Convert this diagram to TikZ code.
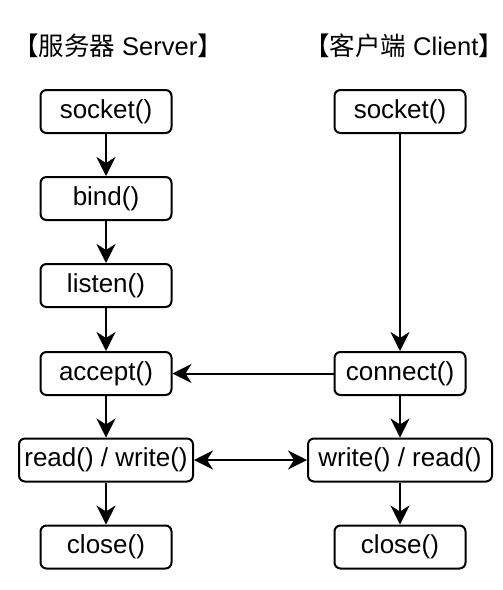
\documentclass[tikz,border=0pt]{standalone}
\usepackage{fontspec}
\setmainfont{Liberation Sans}
\newfontfamily\cjk{Noto Sans CJK SC}
\usetikzlibrary{arrows.meta,positioning}
\tikzset{
  fn/.style={draw, line width=2pt, rounded corners=6pt, fill=white,
             minimum width=131pt, minimum height=43pt, inner sep=0pt,
             font=\fontsize{26}{30}\selectfont},
  fnwide/.style={fn, minimum width=174pt},
  ttl/.style={font=\fontsize{25.5}{30}\selectfont},
  flow/.style={-{Stealth[length=19pt,width=19pt,inset=6pt]}, line width=2pt},
  duplex/.style={{Stealth[length=19pt,width=19pt,inset=6pt]}-{Stealth[length=19pt,width=19pt,inset=6pt]}, line width=2pt},
}
\begin{document}
\begin{tikzpicture}[x=1pt,y=-1pt]
  \useasboundingbox (0,0) rectangle (503,590);
  % titles
  \node[ttl] (srvtitle) at (118,46) {{\cjk 【服务器}~Server{\cjk 】}};
  \node[ttl] (clititle) at (404,46) {{\cjk 【客户端}~Client{\cjk 】}};
  % server side
  \node[fn] (ssocket) at (106,111.5) {socket()};
  \node[fn] (sbind) at (106,198.5) {bind()};
  \node[fn] (slisten) at (106,285.5) {listen()};
  \node[fn] (saccept) at (106,373.5) {accept()};
  \node[fnwide] (srw) at (106,460) {read() / write()};
  \node[fn] (sclose) at (106,547) {close()};
  % client side
  \node[fn] (csocket) at (400,111.5) {socket()};
  \node[fn] (cconnect) at (400,373.5) {connect()};
  \node[fnwide, minimum width=184pt] (cwr) at (400,460) {write() / read()};
  \node[fn] (cclose) at (400,547) {close()};
  % arrows
  \draw[flow] (ssocket) -- (sbind);
  \draw[flow] (sbind) -- (slisten);
  \draw[flow] (slisten) -- (saccept);
  \draw[flow] (saccept) -- (srw);
  \draw[flow] (srw) -- (sclose);
  \draw[flow] (csocket) -- (cconnect);
  \draw[flow] (cconnect) -- (saccept);
  \draw[flow] (cconnect) -- (cwr);
  \draw[flow] (cwr) -- (cclose);
  \draw[duplex] (srw) -- (cwr);
\end{tikzpicture}
\end{document}
